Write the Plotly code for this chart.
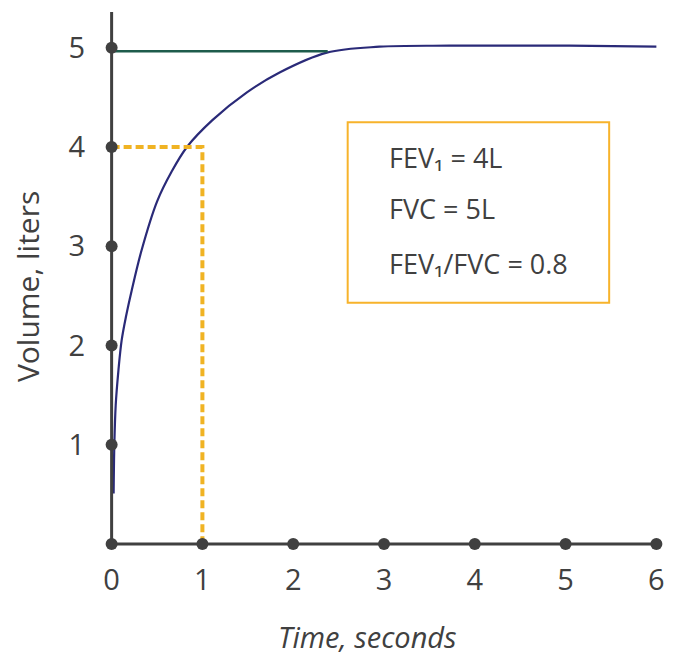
import plotly.graph_objects as go

# Volume-time curve
curve_t = [0.022, 0.03, 0.045, 0.075, 0.11, 0.16, 0.22, 0.33, 0.50, 0.66, 0.83, 1.11, 1.49, 1.85, 2.37, 2.95, 3.72, 5.04, 6.0]
curve_v = [0.51, 1.0, 1.4, 1.75, 2.05, 2.3, 2.55, 2.96, 3.45, 3.75, 4.0, 4.27, 4.55, 4.75, 4.95, 5.01, 5.02, 5.02, 5.01]

x_ticks = [0, 1, 2, 3, 4, 5, 6]
y_ticks = [1, 2, 3, 4, 5]

fvc_line_t = [0, 2.38]
fvc_line_v = [4.965, 4.965]

fev1_t = [0, 1, 1]
fev1_v = [4, 4, 0]

box_lines = ["FEV₁ = 4L", "FVC = 5L", "FEV₁/FVC = 0.8"]
box_line_y = [3.89, 3.38, 2.83]

AX = "#404040"
FONT = "Open Sans"

fig = go.Figure()

fig.add_trace(go.Scatter(x=curve_t, y=curve_v, mode="lines", line=dict(color="#2A2A78", width=2.2, shape="spline", smoothing=1.0), hoverinfo="skip"))
fig.add_trace(go.Scatter(x=fvc_line_t, y=fvc_line_v, mode="lines", line=dict(color="#1E5C4C", width=2.5), hoverinfo="skip"))
fig.add_trace(go.Scatter(x=fev1_t, y=fev1_v, mode="lines", line=dict(color="#F0B323", width=4, dash="8px,4px"), hoverinfo="skip"))

# axes lines
fig.add_trace(go.Scatter(x=[0, 0], y=[0, 5.36], mode="lines", line=dict(color=AX, width=3), hoverinfo="skip"))
fig.add_trace(go.Scatter(x=[0, 6], y=[0, 0], mode="lines", line=dict(color=AX, width=3), hoverinfo="skip"))
# axis dots
fig.add_trace(go.Scatter(x=x_ticks, y=[0] * len(x_ticks), mode="markers", marker=dict(color=AX, size=12), cliponaxis=False, hoverinfo="skip"))
fig.add_trace(go.Scatter(x=[0] * len(y_ticks), y=y_ticks, mode="markers", marker=dict(color=AX, size=12), cliponaxis=False, hoverinfo="skip"))

# box
fig.add_shape(type="rect", x0=2.60, x1=5.48, y0=2.43, y1=4.25, line=dict(color="#F7B32B", width=2), fillcolor="rgba(0,0,0,0)")
for txt, yy in zip(box_lines, box_line_y):
    fig.add_annotation(x=3.03, y=yy, text=txt, showarrow=False, xanchor="left", yanchor="middle",
                       font=dict(family=FONT, size=27, color=AX))

# axis titles
fig.add_annotation(xref="paper", yref="paper", x=-0.124, y=0.489, text="Volume, liters", textangle=-90,
                   showarrow=False, xanchor="center", yanchor="middle", font=dict(family=FONT, size=30, color=AX))
fig.add_annotation(xref="paper", yref="paper", x=0.471, y=-0.152, text="<i>Time, seconds</i>",
                   showarrow=False, xanchor="center", yanchor="middle", font=dict(family=FONT, size=29, color=AX))

fig.update_layout(
    width=673, height=662,
    margin=dict(l=90, r=11, t=0, b=116, pad=0),
    plot_bgcolor="white", paper_bgcolor="white",
    showlegend=False,
    font=dict(family=FONT, color=AX),
    xaxis=dict(range=[-0.15, 6.15], tickvals=x_ticks, ticktext=[str(v) for v in x_ticks],
               showgrid=False, zeroline=False, showline=False, ticklabelstandoff=6, automargin=False,
               tickfont=dict(family=FONT, size=29, color=AX)),
    yaxis=dict(range=[-0.1, 5.4], tickvals=y_ticks, ticktext=[str(v) for v in y_ticks],
               showgrid=False, zeroline=False, showline=False, ticklabelstandoff=12, automargin=False,
               tickfont=dict(family=FONT, size=29, color=AX)),
)

fig.write_html("out.html")
